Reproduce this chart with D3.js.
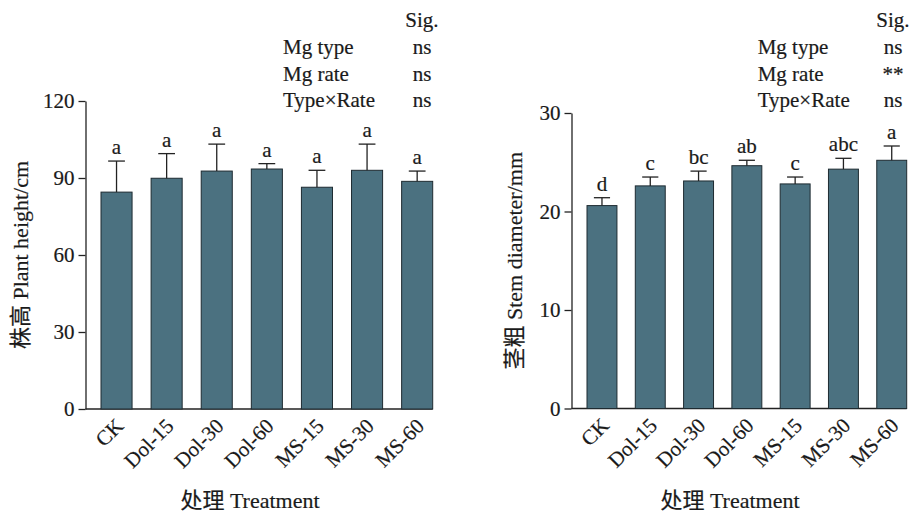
<!DOCTYPE html>
<html lang="zh">
<head>
<meta charset="UTF-8">
<title>Plant height and stem diameter</title>
<style>
  html, body { margin: 0; padding: 0; background: #fff; }
  svg text { font-family: "Liberation Serif", "Times New Roman", "Noto Sans CJK SC", serif; fill: #1a1a1a; stroke: #1a1a1a; stroke-width: 0.2px; }
</style>
</head>
<body>
<div id="chart"></div>
<script src="https://cdn.jsdelivr.net/npm/d3@7/dist/d3.min.js"></script>
<script>
const treatments = ['CK', 'Dol-15', 'Dol-30', 'Dol-60', 'MS-15', 'MS-30', 'MS-60'];

// plant height (cm), mean and error
const heightMean = [84.5, 89.9, 92.7, 93.5, 86.4, 93.0, 88.7];
const heightErr = [12.1, 9.6, 10.5, 2.1, 6.6, 10.2, 4.0];
const heightLetters = ['a', 'a', 'a', 'a', 'a', 'a', 'a'];
const heightTicks = [0, 30, 60, 90, 120];

// stem diameter (mm), mean and error
const stemMean = [20.6, 22.6, 23.1, 24.65, 22.8, 24.3, 25.2];
const stemErr = [0.8, 0.9, 1.0, 0.55, 0.7, 1.1, 1.45];
const stemLetters = ['d', 'c', 'bc', 'ab', 'c', 'abc', 'a'];
const stemTicks = [0, 10, 20, 30];

const effects = ['Mg type', 'Mg rate', 'Type×Rate'];
const heightSig = ['ns', 'ns', 'ns'];
const stemSig = ['ns', '**', 'ns'];

const W = 918, H = 515;
const barFill = '#4b7180';
const ink = '#222';
const fs = '21px';
const titleFs = '22px';

const svg = d3.select('#chart').append('svg')
  .attr('width', W)
  .attr('height', H);

function drawPanel(p) {
  const g = svg.append('g');

  const y = d3.scaleLinear()
    .domain([0, p.yMax])
    .range([p.yBottom, p.yTop]);

  const x = d3.scaleBand()
    .domain(treatments)
    .range([p.barsLeft, p.barsRight])
    .paddingInner(0.38)
    .paddingOuter(0);

  // y axis
  const yAxis = g.append('g')
    .attr('transform', `translate(${p.axisX},0)`)
    .call(d3.axisLeft(y).tickValues(p.ticks).tickSize(7).tickSizeOuter(0).tickPadding(4));
  yAxis.selectAll('path, line').attr('stroke', ink).attr('stroke-width', 1.3);
  yAxis.selectAll('text').style('font-size', fs);

  // x axis baseline
  g.append('line')
    .attr('x1', p.axisX).attr('x2', p.barsRight)
    .attr('y1', p.yBottom).attr('y2', p.yBottom)
    .attr('stroke', ink).attr('stroke-width', 1.3);

  const xAxis = g.append('g')
    .attr('transform', `translate(0,${p.yBottom})`)
    .call(d3.axisBottom(x).tickSize(0));
  xAxis.select('.domain').remove();
  xAxis.selectAll('text')
    .attr('x', 0).attr('y', 0)
    .attr('dy', '0.35em')
    .attr('text-anchor', 'end')
    .attr('transform', 'translate(3,13) rotate(-45)')
    .style('font-size', fs);

  const rows = treatments.map((t, i) => ({ t, m: p.mean[i], e: p.err[i], l: p.letters[i] }));

  g.selectAll('rect.bar')
    .data(rows)
    .enter()
    .append('rect')
    .attr('class', 'bar')
    .attr('x', d => x(d.t))
    .attr('width', x.bandwidth())
    .attr('y', d => y(d.m))
    .attr('height', d => y(0) - y(d.m))
    .attr('fill', barFill)
    .attr('stroke', '#1e2b31')
    .attr('stroke-width', 1);

  const cap = x.bandwidth() * 0.27;
  const eb = g.selectAll('g.err')
    .data(rows)
    .enter()
    .append('g')
    .attr('class', 'err');
  eb.append('line')
    .attr('x1', d => x(d.t) + x.bandwidth() / 2)
    .attr('x2', d => x(d.t) + x.bandwidth() / 2)
    .attr('y1', d => y(d.m))
    .attr('y2', d => y(d.m + d.e))
    .attr('stroke', ink).attr('stroke-width', 1.3);
  eb.append('line')
    .attr('x1', d => x(d.t) + x.bandwidth() / 2 - cap)
    .attr('x2', d => x(d.t) + x.bandwidth() / 2 + cap)
    .attr('y1', d => y(d.m + d.e))
    .attr('y2', d => y(d.m + d.e))
    .attr('stroke', ink).attr('stroke-width', 1.3);

  g.selectAll('text.letter')
    .data(rows)
    .enter()
    .append('text')
    .attr('class', 'letter')
    .attr('x', d => x(d.t) + x.bandwidth() / 2)
    .attr('y', d => y(d.m + d.e) - 7)
    .attr('text-anchor', 'middle')
    .style('font-size', fs)
    .text(d => d.l);

  // significance table
  g.append('text')
    .attr('x', p.sigX).attr('y', 27)
    .attr('text-anchor', 'middle')
    .style('font-size', fs)
    .text('Sig.');
  effects.forEach((ef, i) => {
    g.append('text')
      .attr('x', p.effX).attr('y', 54 + i * 26.5)
      .style('font-size', fs)
      .text(ef);
    g.append('text')
      .attr('x', p.sigX).attr('y', 54 + i * 26.5)
      .attr('text-anchor', 'middle')
      .style('font-size', fs)
      .text(p.sig[i]);
  });

  // axis titles
  g.append('text')
    .attr('transform', `translate(${p.yLabelX},${(p.yTop + p.yBottom) / 2}) rotate(-90)`)
    .attr('text-anchor', 'middle')
    .style('font-size', titleFs)
    .text(p.yLabel);

  g.append('text')
    .attr('x', p.xLabelX).attr('y', 508)
    .attr('text-anchor', 'middle')
    .style('font-size', titleFs)
    .text('处理 Treatment');
}

drawPanel({
  mean: heightMean, err: heightErr, letters: heightLetters, ticks: heightTicks,
  sig: heightSig, yMax: 120, yTop: 101, yBottom: 409,
  axisX: 85.5, barsLeft: 101, barsRight: 432.7,
  sigX: 422, effX: 283, yLabelX: 28, xLabelX: 250,
  yLabel: '株高 Plant height/cm'
});

drawPanel({
  mean: stemMean, err: stemErr, letters: stemLetters, ticks: stemTicks,
  sig: stemSig, yMax: 30, yTop: 113, yBottom: 408.5,
  axisX: 571.5, barsLeft: 587, barsRight: 906.7,
  sigX: 893, effX: 757.7, yLabelX: 522, xLabelX: 730,
  yLabel: '茎粗 Stem diameter/mm'
});
</script>
</body>
</html>
